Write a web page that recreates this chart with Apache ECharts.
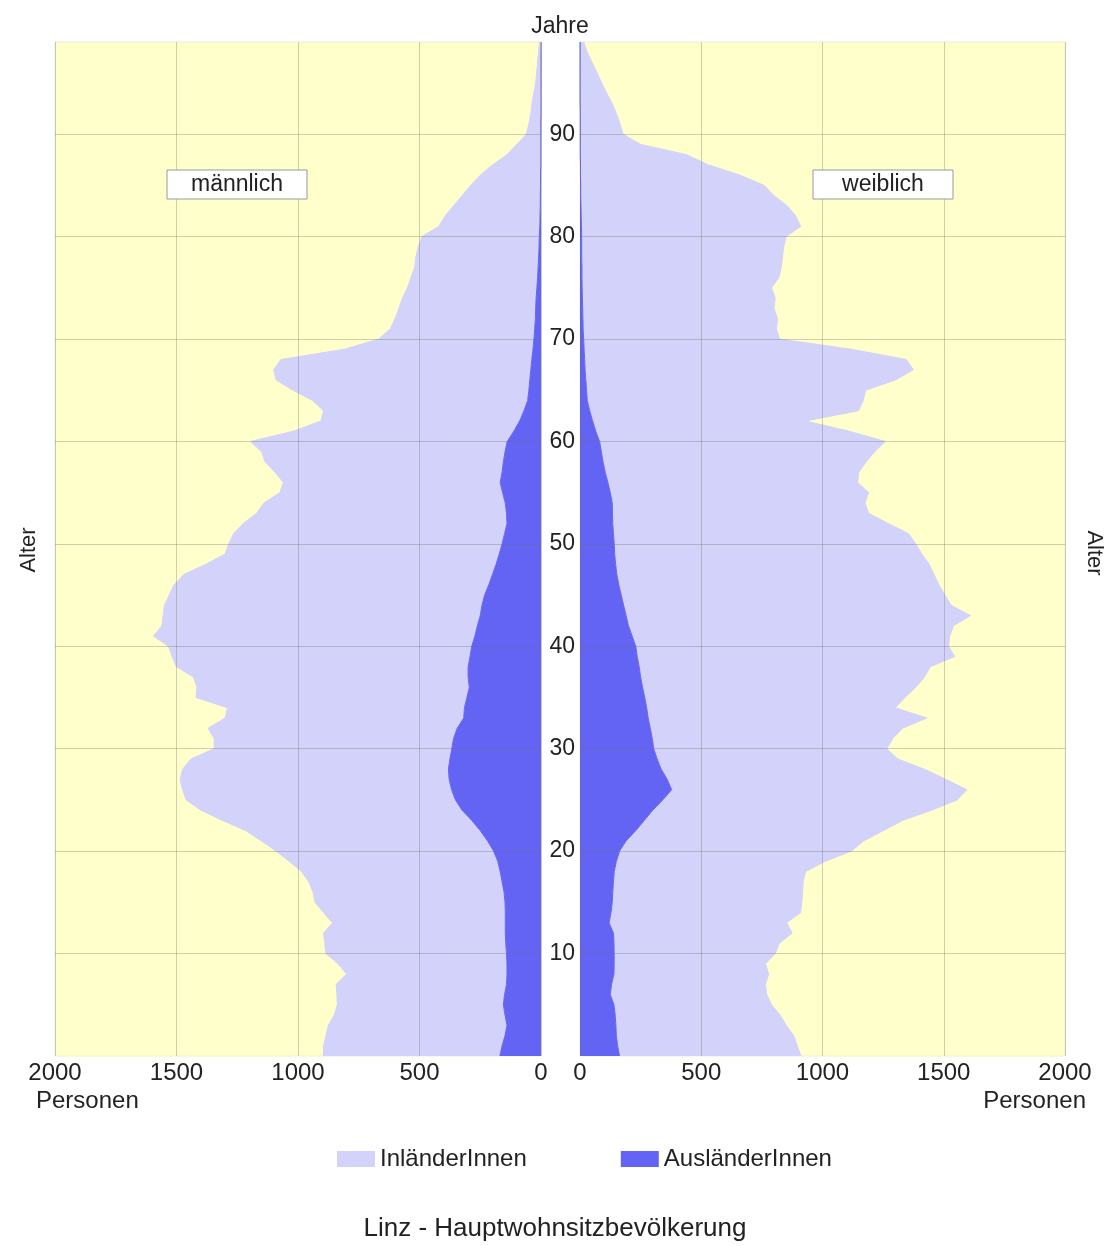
<!DOCTYPE html>
<html>
<head>
<meta charset="utf-8">
<script src="https://cdn.jsdelivr.net/npm/echarts@6/dist/echarts.min.js"></script>
<style>
html,body{margin:0;padding:0;background:#ffffff;}
#chart{width:1110px;height:1246px;}
</style>
</head>
<body>
<div id="chart"></div>
<script>
// Ages 0..99 (categories)
const ages = [];
for (let a = 0; a <= 99; a++) ages.push(String(a));

// Age labels shown in the middle column
const ageTickLabels = ['10','20','30','40','50','60','70','80','90'];
// Person axis tick labels
const personTicks = [0, 500, 1000, 1500, 2000];

// männlich – total population per age (Personen)
const maleTotal = [
  895,895,885,875,851,838,840,843,800,835,
  885,890,895,858,895,930,938,955,985,1035,
  1090,1150,1215,1310,1400,1460,1475,1485,1475,1440,
  1345,1345,1370,1300,1290,1420,1416,1430,1500,1518,
  1533,1595,1560,1555,1550,1530,1510,1470,1380,1300,
  1285,1265,1225,1170,1140,1075,1060,1095,1135,1150,
  1195,1020,905,895,940,1020,1090,1100,1070,810,
  667,620,600,585,570,550,535,520,515,505,
  490,420,395,360,325,290,250,200,140,100,
  60,50,42,37,30,22,18,14,10,6
];
// männlich – AusländerInnen per age
const maleForeign = [
  169,160,148,140,148,155,150,142,140,140,
  142,145,147,147,147,148,152,160,168,178,
  195,220,250,285,325,352,368,378,381,375,
  367,360,345,318,315,305,295,300,300,292,
  285,272,262,250,243,232,215,200,185,172,
  160,150,140,142,147,158,168,160,155,148,
  139,112,88,70,55,50,46,42,38,33,
  29,26,23,22,20,17,14,12,10,8,
  7,5,4,3,3,2,2,1,1,1,
  1,1,0,0,0,0,0,0,0,0
];
// weiblich – total population per age
const femaleTotal = [
  911,896,881,850,825,790,770,765,778,765,
  805,822,875,852,910,915,918,920,930,1010,
  1118,1170,1250,1330,1450,1555,1595,1510,1420,1310,
  1265,1290,1330,1430,1300,1340,1385,1420,1445,1545,
  1520,1525,1540,1610,1530,1505,1480,1460,1440,1410,
  1385,1355,1270,1190,1175,1190,1145,1150,1180,1215,
  1259,1110,930,1148,1168,1178,1300,1375,1345,1120,
  822,810,815,800,805,790,820,830,835,840,
  850,910,890,855,800,760,660,530,440,250,
  178,165,150,133,110,90,70,50,30,15
];
// weiblich – AusländerInnen per age
const femaleForeign = [
  163,155,150,148,145,140,125,130,140,141,
  141,140,138,120,128,133,135,138,141,150,
  163,190,230,265,300,341,378,360,335,318,
  304,298,290,281,275,267,258,250,244,236,
  230,215,200,190,180,170,160,152,147,143,
  141,138,135,134,133,125,115,104,95,88,
  81,65,52,40,30,27,24,21,19,17,
  15,13,12,11,10,9,8,8,7,7,
  7,6,5,4,3,3,2,2,1,1,
  1,1,1,0,0,0,0,0,0,0
];

const seriesNames = ['InländerInnen', 'AusländerInnen'];
const panelLabels = ['männlich', 'weiblich'];
const titleText = 'Linz - Hauptwohnsitzbevölkerung';

const COL_IN = '#d2d2fb';
const COL_AUS = '#6464f4';
const BG = '#ffffcc';
const GRIDLINE = 'rgba(110,110,95,0.33)';
const FONT = '"Liberation Sans", Arial, Helvetica, sans-serif';

const maleDomestic = maleTotal.map((v, i) => v - maleForeign[i]);
const femaleDomestic = femaleTotal.map((v, i) => v - femaleForeign[i]);

const chart = echarts.init(document.getElementById('chart'), null, {renderer: 'canvas'});

function xAxisDef(gridIndex, inverse) {
  return {
    type: 'value', gridIndex: gridIndex, min: 0, max: 2000, interval: 500,
    inverse: inverse, z: 10,
    axisLine: {show: false}, axisTick: {show: false},
    axisLabel: {
      show: true, margin: 5, fontSize: 24, color: '#222', fontFamily: FONT,
      formatter: function (v) { return personTicks.indexOf(v) >= 0 ? String(v) : ''; }
    },
    splitLine: {show: true, lineStyle: {color: GRIDLINE, width: 1}}
  };
}
function yAxisDef(gridIndex, showLabels) {
  return {
    type: 'category', gridIndex: gridIndex, data: ages, boundaryGap: false, z: 10,
    axisLine: {show: false}, axisTick: {show: false},
    axisLabel: {
      show: showLabels, margin: 5, fontSize: 23, color: '#222', fontFamily: FONT,
      interval: function (i, v) { return ageTickLabels.indexOf(v) >= 0; }
    },
    splitLine: {
      show: true, lineStyle: {color: GRIDLINE, width: 1},
      interval: function (i, v) { return ageTickLabels.indexOf(v) >= 0; }
    }
  };
}
function areaSeries(name, data, color, gridIdx, stack) {
  return {
    name: name, type: 'line', xAxisIndex: gridIdx, yAxisIndex: gridIdx,
    stack: stack, data: data, showSymbol: false, symbol: 'none',
    smooth: false, silent: true, z: 2,
    itemStyle: {color: color},
    lineStyle: {color: color, width: 1},
    areaStyle: {color: color, opacity: 1}
  };
}

const option = {
  backgroundColor: '#ffffff',
  animation: false,
  title: {
    text: titleText, left: 'center', top: 1211,
    textStyle: {fontSize: 26, fontWeight: 'normal', color: '#222', fontFamily: FONT}
  },
  legend: {
    data: seriesNames, left: 332, top: 1142, itemWidth: 38, itemHeight: 16,
    itemGap: 94, icon: 'rect',
    textStyle: {fontSize: 24, color: '#222', fontFamily: FONT}
  },
  grid: [
    {left: 55, top: 42, width: 486, height: 1014, show: true, backgroundColor: BG, borderColor: '#efefd2', borderWidth: 1},
    {left: 580, top: 42, width: 485, height: 1014, show: true, backgroundColor: BG, borderColor: '#efefd2', borderWidth: 1}
  ],
  xAxis: [xAxisDef(0, true), xAxisDef(1, false)],
  yAxis: [yAxisDef(0, false), yAxisDef(1, true)],
  series: [
    areaSeries(seriesNames[1], maleForeign, COL_AUS, 0, 'm'),
    areaSeries(seriesNames[0], maleDomestic, COL_IN, 0, 'm'),
    areaSeries(seriesNames[1], femaleForeign, COL_AUS, 1, 'f'),
    areaSeries(seriesNames[0], femaleDomestic, COL_IN, 1, 'f')
  ],
  graphic: [
    {type: 'text', x: 560, y: 27, z: 20, style: {text: 'Jahre', fill: '#222', font: '23px ' + FONT, align: 'center', verticalAlign: 'middle'}},
    {type: 'text', x: 29, y: 550, rotation: Math.PI / 2, z: 20, style: {text: 'Alter', fill: '#222', font: '22px ' + FONT, align: 'center', verticalAlign: 'middle'}},
    {type: 'text', x: 1094, y: 553, rotation: -Math.PI / 2, z: 20, style: {text: 'Alter', fill: '#222', font: '22px ' + FONT, align: 'center', verticalAlign: 'middle'}},
    {type: 'text', x: 36, y: 1101, z: 20, style: {text: 'Personen', fill: '#222', font: '24px ' + FONT, align: 'left', verticalAlign: 'middle'}},
    {type: 'text', x: 1086, y: 1101, z: 20, style: {text: 'Personen', fill: '#222', font: '24px ' + FONT, align: 'right', verticalAlign: 'middle'}},
    {type: 'rect', x: 167, y: 170, z: 20, shape: {width: 140, height: 29}, style: {fill: '#ffffff', stroke: '#9a9a9a', lineWidth: 1}},
    {type: 'text', x: 237, y: 185, z: 21, style: {text: panelLabels[0], fill: '#222', font: '23px ' + FONT, align: 'center', verticalAlign: 'middle'}},
    {type: 'rect', x: 813, y: 170, z: 20, shape: {width: 140, height: 29}, style: {fill: '#ffffff', stroke: '#9a9a9a', lineWidth: 1}},
    {type: 'text', x: 883, y: 185, z: 21, style: {text: panelLabels[1], fill: '#222', font: '23px ' + FONT, align: 'center', verticalAlign: 'middle'}}
  ]
};
chart.setOption(option);
</script>
</body>
</html>
